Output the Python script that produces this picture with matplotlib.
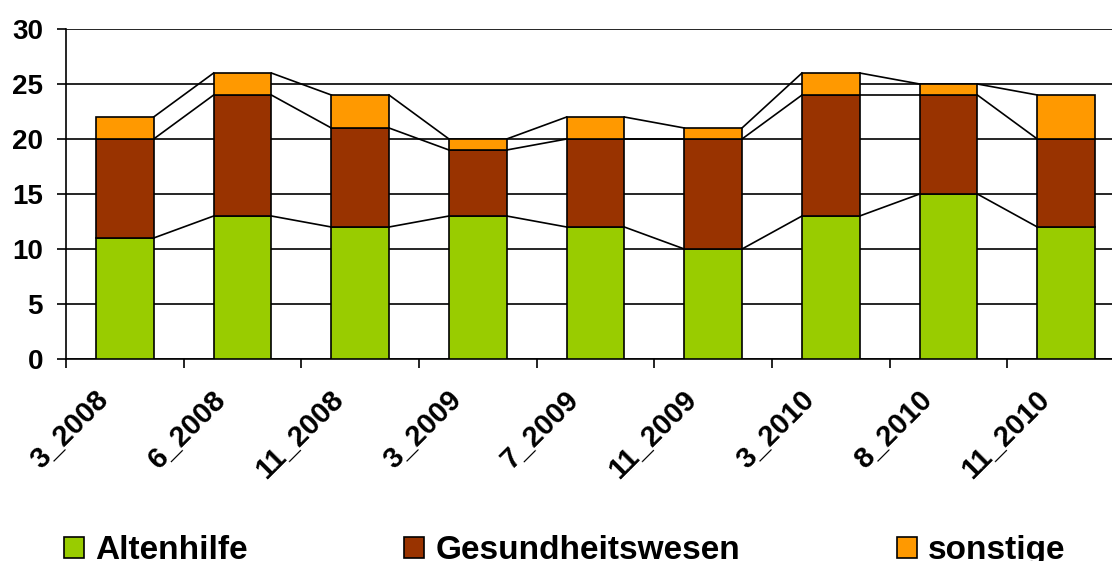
import matplotlib.pyplot as plt
from matplotlib.patches import Patch
from matplotlib.transforms import ScaledTranslation
import numpy as np

plt.rcParams["font.family"] = ["Liberation Sans", "DejaVu Sans"]
plt.rcParams["font.weight"] = "bold"

# data
categories = ["3_2008", "6_2008", "11_2008", "3_2009", "7_2009",
              "11_2009", "3_2010", "8_2010", "11_2010"]
altenhilfe = [11, 13, 12, 13, 12, 10, 13, 15, 12]
gesundheitswesen = [9, 11, 9, 6, 8, 10, 11, 9, 8]
sonstige = [2, 2, 3, 1, 2, 1, 2, 1, 4]
series_names = ["Altenhilfe", "Gesundheitswesen", "sonstige"]
colors = ["#99CC00", "#993300", "#FF9900"]

fig = plt.figure(figsize=(11.12, 5.61), dpi=100)
ax = fig.add_axes([66 / 1112, 1 - 359 / 561, 1059 / 1112, 330 / 561])

x = np.arange(len(categories))
w = 0.49
bottom = np.zeros(len(categories))
tops = []
for vals, c in zip([altenhilfe, gesundheitswesen, sonstige], colors):
    ax.bar(x, vals, w, bottom=bottom, color=c, edgecolor="black",
           linewidth=1.2, zorder=3)
    bottom = bottom + np.array(vals)
    tops.append(bottom.copy())

# series lines between the stacks
for t in tops:
    for i in range(len(x) - 1):
        ax.plot([x[i] + w / 2, x[i + 1] - w / 2], [t[i], t[i + 1]],
                color="black", linewidth=1.2, zorder=2)

ax.set_xlim(-0.5, len(categories) - 0.5)
ax.set_ylim(0, 30)
ax.set_yticks(range(0, 31, 5))
ax.yaxis.grid(True, color="black", linewidth=1.2, zorder=1)
ax.set_axisbelow(True)
for s in ["top", "right"]:
    ax.spines[s].set_visible(False)
for s in ["left", "bottom"]:
    ax.spines[s].set_linewidth(1.2)

# tick marks at category borders, labels at centers
ax.set_xticks(np.arange(-0.5, len(categories), 1.0))
ax.set_xticklabels([])
ax.set_xticks(x, minor=True)
ax.set_xticklabels(categories, minor=True, rotation=45, ha="right",
                   va="top", fontsize=21, fontweight="bold")
ax.tick_params(axis="x", which="minor", length=0, pad=19)
ax.tick_params(axis="both", which="major", direction="out", length=6.5,
               width=1.2)
ax.tick_params(axis="y", labelsize=20, pad=10)
for lbl in ax.get_xticklabels(minor=True):
    lbl.set_transform(lbl.get_transform() +
                      ScaledTranslation(-0.11, 0, fig.dpi_scale_trans))

handles = [Patch(facecolor=c, edgecolor="black", linewidth=1.2) for c in colors]
fig.legend(handles, series_names, loc="upper left", ncol=3,
           bbox_to_anchor=(64 / 1112, 1 - 535 / 561), frameon=False,
           prop={"weight": "bold", "size": 24}, handlelength=0.6,
           handleheight=0.6, handletextpad=0.33, columnspacing=4.7,
           borderpad=0, borderaxespad=0)

fig.savefig("out.png", dpi=100)
